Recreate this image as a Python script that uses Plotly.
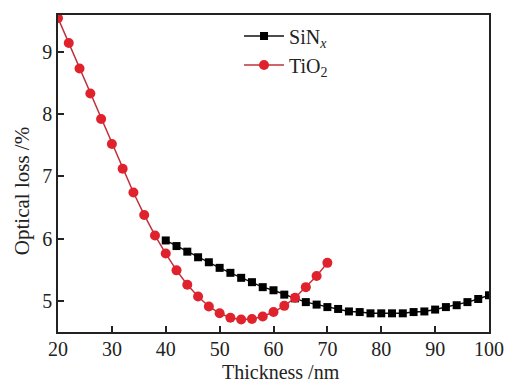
import plotly.graph_objects as go

tio2_x = list(range(20, 71, 2))
tio2_y = [9.54, 9.14, 8.73, 8.33, 7.92, 7.52, 7.12, 6.74, 6.38, 6.05, 5.76, 5.49, 5.26,
          5.07, 4.91, 4.80, 4.73, 4.70, 4.71, 4.75, 4.82, 4.92, 5.05, 5.22, 5.40, 5.61]

sinx_x = list(range(40, 101, 2))
sinx_y = [5.97, 5.88, 5.79, 5.70, 5.62, 5.53, 5.45, 5.37, 5.30, 5.22, 5.17, 5.10, 5.04,
          4.98, 4.94, 4.90, 4.87, 4.83, 4.82, 4.80, 4.80, 4.80, 4.80, 4.82, 4.83, 4.86,
          4.90, 4.93, 4.98, 5.03, 5.09]

x_ticks = [20, 30, 40, 50, 60, 70, 80, 90, 100]
y_ticks = [5, 6, 7, 8, 9]

FONT = "Liberation Serif"

fig = go.Figure()
fig.add_trace(go.Scatter(
    x=sinx_x, y=sinx_y, mode="lines+markers", name="SiN<sub><i>x</i></sub>",
    line=dict(color="#111111", width=1.5),
    marker=dict(symbol="square", size=8, color="#000000"),
))
fig.add_trace(go.Scatter(
    x=tio2_x, y=tio2_y, mode="lines+markers", name="TiO<sub>2</sub>",
    line=dict(color="#c0303a", width=1.5),
    marker=dict(symbol="circle", size=10, color="#e0222c"),
))

axis_common = dict(
    showline=True, linecolor="#222222", linewidth=1.5, mirror=True,
    ticks="inside", ticklen=6, tickwidth=1.5, tickcolor="#222222",
    showgrid=False, zeroline=False, automargin=False,
    tickfont=dict(family=FONT, size=20, color="#222222"),
)

fig.update_layout(
    width=507, height=383,
    margin=dict(l=58, r=18, t=15, b=51),
    paper_bgcolor="white", plot_bgcolor="white",
    font=dict(family=FONT, color="#222222"),
    xaxis=dict(range=[20, 100], tickvals=x_ticks, ticklabelstandoff=-2, **axis_common),
    yaxis=dict(range=[4.5, 9.59], tickvals=y_ticks, **axis_common),
    legend=dict(x=0.42, y=0.995, xanchor="left", yanchor="top",
                bgcolor="rgba(0,0,0,0)", font=dict(family=FONT, size=20),
                itemwidth=40, tracegroupgap=4),
    showlegend=True,
    annotations=[
        dict(text="Thickness /nm", xref="paper", yref="paper", x=0.517, y=-0.125,
             xanchor="center", yanchor="middle", showarrow=False,
             font=dict(family=FONT, size=20, color="#222222")),
        dict(text="Optical loss /%", xref="paper", yref="paper", x=-0.083, y=0.445,
             xanchor="center", yanchor="middle", showarrow=False, textangle=-90,
             font=dict(family=FONT, size=21, color="#222222")),
    ],
)

fig.write_html("out.html")
